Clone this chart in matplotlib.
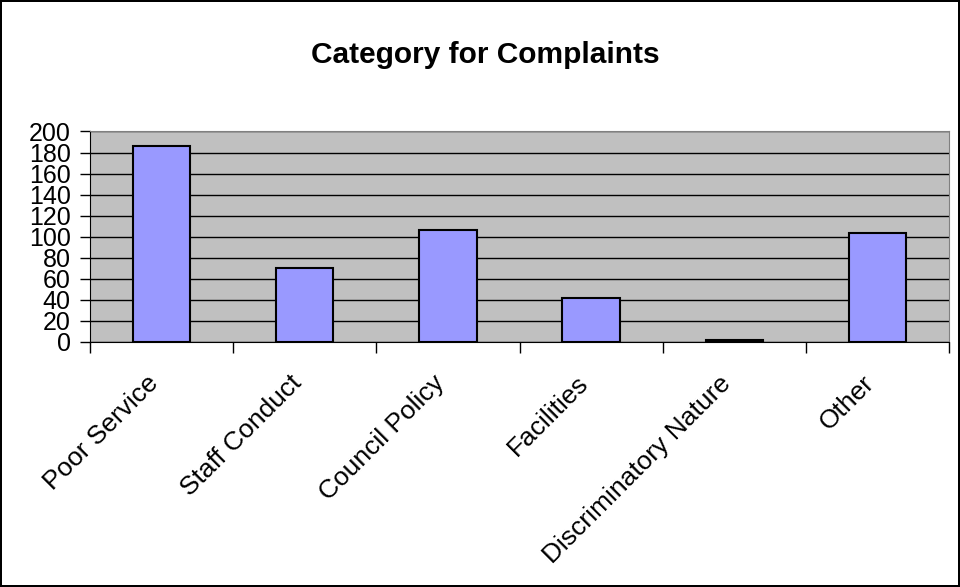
import matplotlib
matplotlib.use("Agg")
import matplotlib.pyplot as plt
from matplotlib.transforms import ScaledTranslation

plt.rcParams["font.family"] = ["Liberation Sans", "DejaVu Sans"]

categories = ["Poor Service", "Staff Conduct", "Council Policy", "Facilities",
              "Discriminatory Nature", "Other"]
complaints = [186, 70, 106, 42, 2, 104]
y_ticks = list(range(0, 201, 20))

fig = plt.figure(figsize=(9.6, 5.87), dpi=100)
fig.patch.set_facecolor("white")
fig.patch.set_edgecolor("black")
fig.patch.set_linewidth(1.5)

ax = fig.add_axes([0.0938, 0.4174, 0.8947, 0.3586])
ax.set_facecolor("#C0C0C0")
ax.set_axisbelow(True)

x = range(len(categories))
ax.bar(x, complaints, width=0.4, color="#9999FF", edgecolor="black", linewidth=1.5, zorder=3)

ax.set_xlim(-0.5, len(categories) - 0.5)
ax.set_ylim(0, 200)
ax.set_yticks(y_ticks)
ax.set_yticklabels([str(v) for v in y_ticks], fontsize=18)
ax.yaxis.grid(True, color="black", linewidth=1)
ax.tick_params(axis="y", direction="out", length=7, width=1, pad=7)

# category ticks sit on the boundaries between bars
ax.set_xticks([i - 0.5 for i in range(len(categories) + 1)])
ax.set_xticklabels([""] * (len(categories) + 1))
ax.tick_params(axis="x", direction="out", length=8, width=1)
ax.set_xticks(list(x), minor=True)
ax.set_xticklabels(categories, minor=True, rotation=45, ha="right",
                   rotation_mode="anchor", fontsize=19)
ax.tick_params(axis="x", which="minor", length=0, pad=21)
shift = ScaledTranslation(-11 / 72, 0, fig.dpi_scale_trans)
for lbl in ax.get_xticklabels(minor=True):
    lbl.set_transform(lbl.get_transform() + shift)

for side in ["top", "right"]:
    ax.spines[side].set_color("#808080")
for side in ["left", "bottom"]:
    ax.spines[side].set_color("black")

fig.text(0.506, 0.906, "Category for Complaints", ha="center", va="center",
         fontsize=21.5, fontweight="bold")

fig.savefig("out.png", dpi=100, edgecolor=fig.get_edgecolor())
